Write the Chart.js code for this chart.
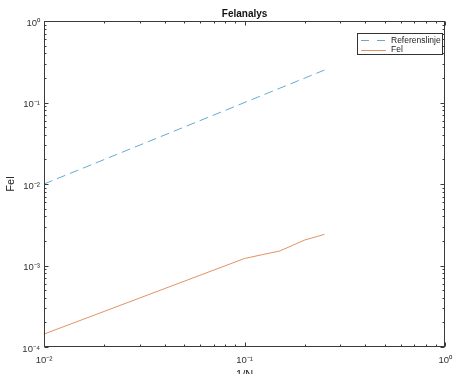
<!DOCTYPE html>
<html><head><meta charset="utf-8">
<script src="https://cdn.jsdelivr.net/npm/chart.js@4/dist/chart.umd.min.js"></script>
<style>html,body{margin:0;padding:0;background:#fff;overflow:hidden}</style>
</head><body>
<canvas id="c" width="460" height="374" style="width:460px;height:374px;display:block"></canvas>
<script>
const refX = [0.01, 0.25];
const refY = [0.01, 0.25];
const felX = [0.01, 0.1, 0.15, 0.2, 0.25];
const felY = [1.44e-4, 1.22e-3, 1.51e-3, 2.06e-3, 2.41e-3];
const xTicks = [0.01, 0.1, 1];
const yTicks = [1e-4, 1e-3, 1e-2, 1e-1, 1];
const xTickLabels = ['10⁻²', '10⁻¹', '10⁰'];
const yTickLabels = ['10⁻⁴', '10⁻³', '10⁻²', '10⁻¹', '10⁰'];
const seriesNames = ['Referenslinje', 'Fel'];
const titleText = 'Felanalys';
const xTitle = '1/N';
const yTitle = 'Fel';

const FONT = "'Liberation Sans', Arial, Helvetica, sans-serif";
const AXC = '#3a3a3a';

const boxPlugin = {
  id: 'boxTicks',
  afterDatasetsDraw(chart) {
    const ctx = chart.ctx, a = chart.chartArea;
    const xs = chart.scales.x, ys = chart.scales.y;
    ctx.save();
    ctx.strokeStyle = AXC;
    ctx.lineWidth = 1;
    const L = Math.round(a.left) + 0.5, R = Math.round(a.right) - 0.5;
    const T = Math.round(a.top) + 0.5, B = Math.round(a.bottom) - 0.5;
    ctx.strokeRect(L, T, R - L, B - T);
    ctx.beginPath();
    for (let k = -2; k <= 0; k++) {
      for (let m = 1; m <= 9; m++) {
        const v = m * Math.pow(10, k);
        if (v < xs.min - 1e-12 || v > xs.max + 1e-12) continue;
        const px = Math.round(xs.getPixelForValue(v)) + 0.5;
        const len = m === 1 ? 4 : 2;
        ctx.moveTo(px, B); ctx.lineTo(px, B - len);
        ctx.moveTo(px, T); ctx.lineTo(px, T + len);
      }
    }
    for (let k = -4; k <= 0; k++) {
      for (let m = 1; m <= 9; m++) {
        const v = m * Math.pow(10, k);
        if (v < ys.min - 1e-12 || v > ys.max + 1e-12) continue;
        const py = Math.round(ys.getPixelForValue(v)) + 0.5;
        const len = m === 1 ? 4 : 2;
        ctx.moveTo(L, py); ctx.lineTo(L + len, py);
        ctx.moveTo(R, py); ctx.lineTo(R - len, py);
      }
    }
    ctx.stroke();
    // legend box
    const lx = 357, ly = 33, lw = 85, lh = 21;
    ctx.fillStyle = '#fff';
    ctx.fillRect(lx, ly, lw, lh);
    ctx.strokeStyle = '#333';
    ctx.strokeRect(lx + 0.5, ly + 0.5, lw, lh);
    const rows = [40, 49.5];
    chart.data.datasets.forEach((ds, i) => {
      ctx.beginPath();
      ctx.strokeStyle = ds.borderColor;
      ctx.lineWidth = 1;
      ctx.setLineDash(ds.borderDash ? [8, 8] : []);
      ctx.moveTo(361, Math.round(rows[i]) + 0.5);
      ctx.lineTo(386, Math.round(rows[i]) + 0.5);
      ctx.stroke();
      ctx.setLineDash([]);
      ctx.fillStyle = '#222';
      ctx.font = '8.5px ' + FONT;
      ctx.textBaseline = 'middle';
      ctx.textAlign = 'left';
      ctx.fillText(ds.label, 391, rows[i] + 0.5);
    });
    ctx.restore();
  }
};

new Chart(document.getElementById('c'), {
  type: 'line',
  data: {
    datasets: [
      { label: seriesNames[0], data: refX.map((x, i) => ({x, y: refY[i]})),
        borderColor: '#62acd2', borderWidth: 1, borderDash: [9, 5], pointRadius: 0, fill: false, tension: 0 },
      { label: seriesNames[1], data: felX.map((x, i) => ({x, y: felY[i]})),
        borderColor: '#e39266', borderWidth: 1, pointRadius: 0, fill: false, tension: 0 }
    ]
  },
  options: {
    responsive: false,
    animation: false,
    devicePixelRatio: 1,
    layout: { padding: { left: 0, right: 5, top: 0, bottom: 0 } },
    plugins: {
      legend: { display: false },
      tooltip: { enabled: false },
      title: { display: true, text: titleText, fullSize: false, color: '#111',
        font: { family: FONT, size: 10, weight: 'bold', lineHeight: 1.2 },
        padding: { top: 8, bottom: 1 } }
    },
    scales: {
      x: {
        type: 'logarithmic', min: 0.01, max: 1,
        afterBuildTicks: s => { s.ticks = xTicks.map(v => ({ value: v })); },
        afterFit: s => { s.height = 27; },
        ticks: { callback: (v, i) => xTickLabels[i], autoSkip: false, maxRotation: 0, minRotation: 0,
          padding: 8, color: '#333', font: { family: FONT, size: 9.5 } },
        grid: { display: false, drawTicks: false },
        border: { display: false },
        title: { display: true, text: xTitle, color: '#222', font: { family: FONT, size: 11 },
          padding: { top: 0, bottom: -8 } }
      },
      y: {
        type: 'logarithmic', min: 1e-4, max: 1,
        afterBuildTicks: s => { s.ticks = yTicks.map(v => ({ value: v })); },
        afterFit: s => { s.width = 44; },
        ticks: { callback: (v, i) => yTickLabels[i], autoSkip: false, labelOffset: 2,
          padding: 4, color: '#333', font: { family: FONT, size: 9.5 } },
        grid: { display: false, drawTicks: false },
        border: { display: false },
        title: { display: true, text: yTitle, color: '#222', font: { family: FONT, size: 11 },
          padding: { top: 4, bottom: 0 } }
      }
    }
  },
  plugins: [boxPlugin]
});
</script>
</body></html>
